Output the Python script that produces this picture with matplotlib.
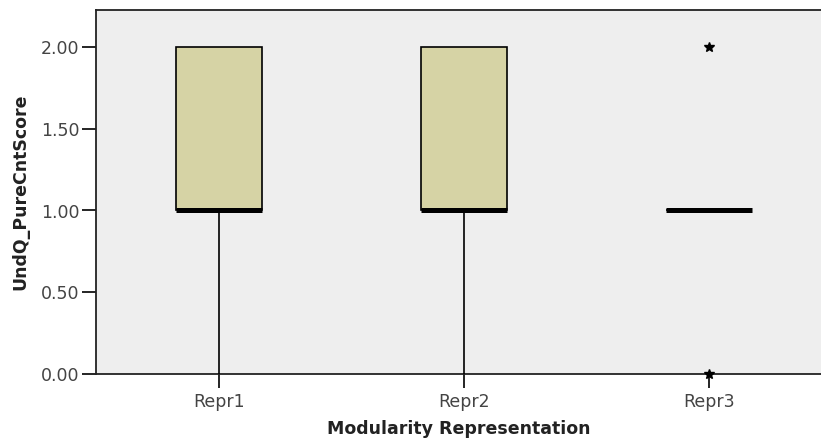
import matplotlib
matplotlib.use("Agg")
import matplotlib.pyplot as plt

categories = ["Repr1", "Repr2", "Repr3"]
q1 = [1.0, 1.0, 1.0]
median = [1.0, 1.0, 1.0]
q3 = [2.0, 2.0, 1.0]
whislo = [0.0, 0.0, 1.0]
whishi = [2.0, 2.0, 1.0]
fliers = [[], [], [0.0, 2.0]]
yticks = [0.0, 0.5, 1.0, 1.5, 2.0]

fig = plt.figure(figsize=(8.21, 4.44), dpi=100)
ax = fig.add_axes([96/821, 70/444, 1 - 96/821, 364/444])
ax.set_facecolor("#EEEEEE")

stats = []
for i, c in enumerate(categories):
    stats.append(dict(label=c, q1=q1[i], med=median[i], q3=q3[i],
                      whislo=whislo[i], whishi=whishi[i], fliers=fliers[i]))

positions = [1, 2, 3]
ax.bxp(stats, positions=positions, widths=0.355, patch_artist=True,
       showcaps=False,
       boxprops=dict(facecolor="#D6D3A5", edgecolor="black", linewidth=1.2),
       medianprops=dict(color="black", linewidth=3.6, solid_capstyle="butt"),
       whiskerprops=dict(color="black", linewidth=1.2),
       flierprops=dict(marker="*", markerfacecolor="black", markeredgecolor="black",
                       markersize=7, clip_on=False),
       zorder=3)

ax.set_xlim(1 - 123/245, 3 + 112/245)
ax.set_ylim(0, 364/163.5)
ax.set_yticks(yticks)
ax.set_yticklabels([f"{v:.2f}" for v in yticks])
ax.tick_params(axis="both", direction="out", length=10, width=1.2, color="black",
               labelsize=12.5, labelcolor="#444444", pad=2)
ax.tick_params(axis="x", pad=4)
for s in ["left", "bottom", "top"]:
    ax.spines[s].set_linewidth(1.3)
    ax.spines[s].set_color("#222222")
ax.spines["right"].set_visible(False)

ax.set_xlabel("Modularity Representation", fontsize=12.5, fontweight="bold",
              color="#222222")
ax.set_ylabel("UndQ_PureCntScore", fontsize=12.5, fontweight="bold",
              color="#222222")
ax.xaxis.set_label_coords((459 - 96) / 725, (374 - 420) / 364)
ax.yaxis.set_label_coords((29 - 96) / 725, (374 - 192) / 364)

fig.savefig("out.png", dpi=100)
